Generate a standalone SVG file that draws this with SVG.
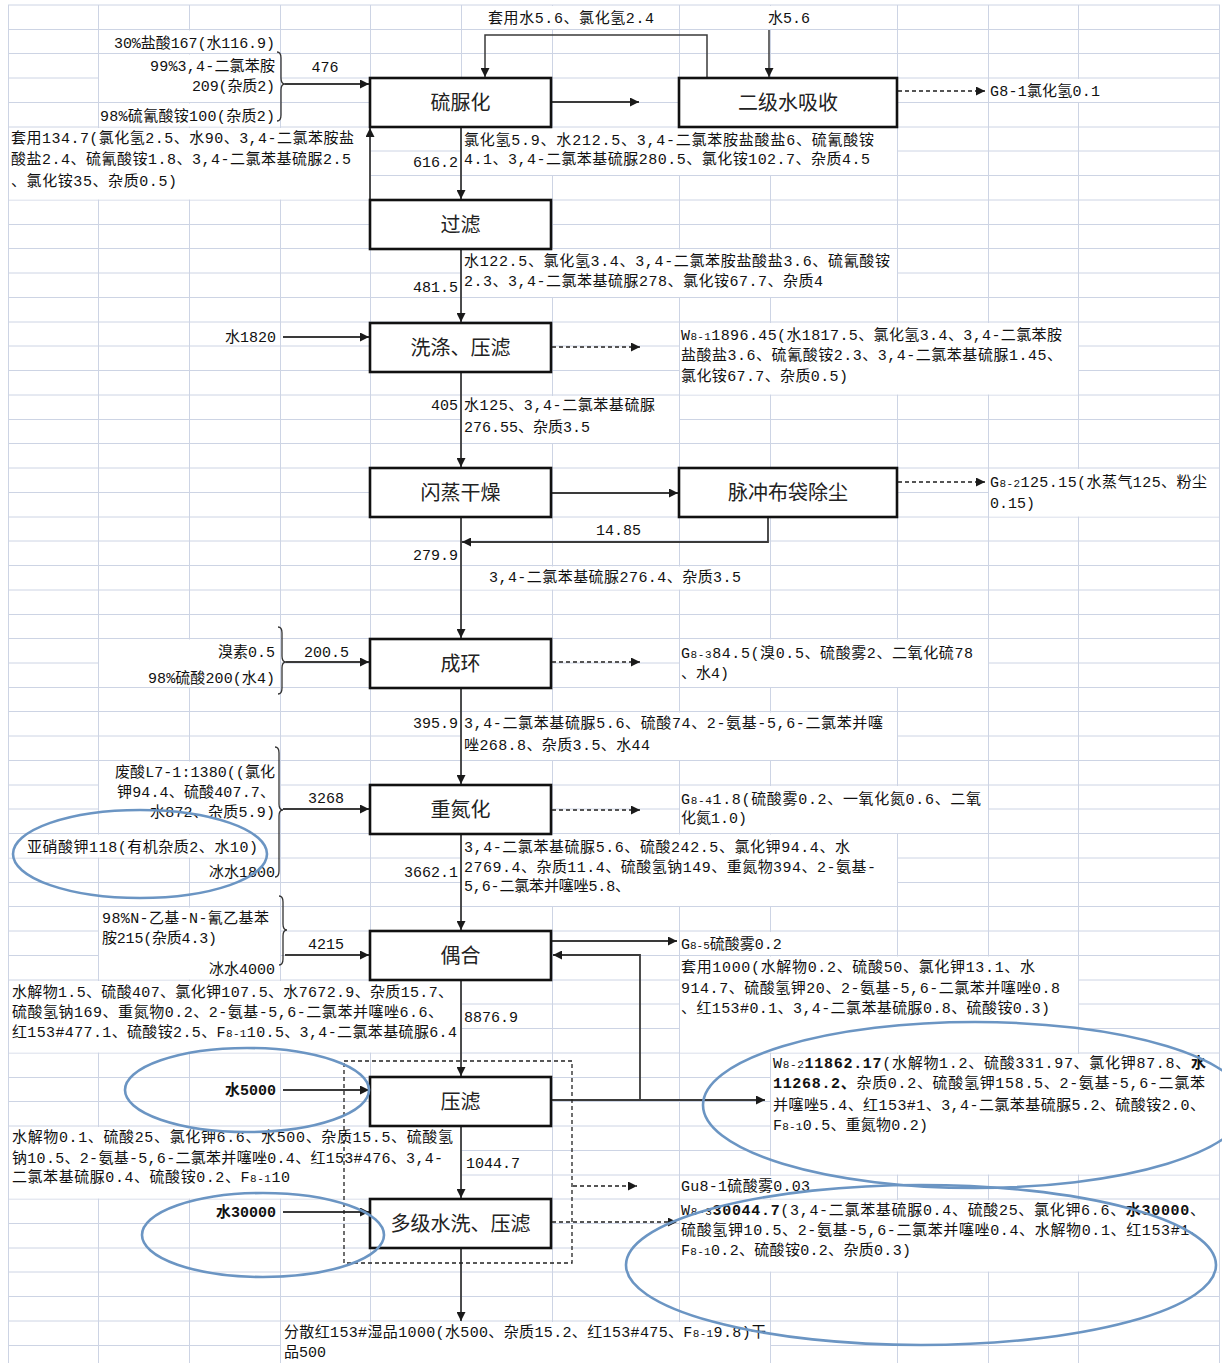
<svg xmlns="http://www.w3.org/2000/svg" width="1222" height="1363" viewBox="0 0 1222 1363">
<defs>
<marker id="ah" viewBox="0 0 10 10" refX="10" refY="5" markerWidth="9" markerHeight="9" markerUnits="userSpaceOnUse" orient="auto"><path d="M0,0 L10,5 L0,10 z" fill="#1a1a1a"/></marker>
<style>
.grid{fill:none;stroke:#cdd4e4;stroke-width:1}
.mg{fill:#fff;stroke:none}
.box{fill:#fff;stroke:#111;stroke-width:2.6}
.n{font-family:"Noto Sans CJK SC","Liberation Sans",sans-serif;font-size:20px;fill:#222;text-anchor:middle}
.t{font-family:"Liberation Mono","Noto Sans CJK SC",monospace;font-size:15px;fill:#111}
.e{text-anchor:end}
.m{text-anchor:middle}
.b{font-weight:bold}
.s{font-size:11px}
.ln{fill:none;stroke:#3a3a3a;stroke-width:1.8}
.ds{fill:none;stroke:#555;stroke-width:2;stroke-dasharray:4 3}
.dr{fill:none;stroke:#222;stroke-width:1.3;stroke-dasharray:4 3}
.br{fill:none;stroke:#333;stroke-width:1.3}
.el{fill:none;stroke:#6b95c3;stroke-width:2.6}
</style>
</defs>
<rect width="1222" height="1363" fill="#fff"/>
<g id="grid">
<path class="grid" d="M8,5 H1220 M8,29.5 H1220 M8,53.5 H1220 M8,78 H1220 M8,102.5 H1220 M8,127 H1220 M8,151 H1220 M8,175.5 H1220 M8,200 H1220 M8,224.5 H1220 M8,248.5 H1220 M8,273 H1220 M8,297.5 H1220 M8,322 H1220 M8,346 H1220 M8,370.5 H1220 M8,395 H1220 M8,419.5 H1220 M8,443.5 H1220 M8,468 H1220 M8,492.5 H1220 M8,517 H1220 M8,541 H1220 M8,565.5 H1220 M8,590 H1220 M8,614.5 H1220 M8,638.5 H1220 M8,663 H1220 M8,687.5 H1220 M8,711.5 H1220 M8,736 H1220 M8,760.5 H1220 M8,785 H1220 M8,809 H1220 M8,833.5 H1220 M8,858 H1220 M8,882.5 H1220 M8,906.5 H1220 M8,931 H1220 M8,955.5 H1220 M8,980 H1220 M8,1004 H1220 M8,1028.5 H1220 M8,1053 H1220 M8,1077.5 H1220 M8,1101.5 H1220 M8,1126 H1220 M8,1150.5 H1220 M8,1175 H1220 M8,1199 H1220 M8,1223.5 H1220 M8,1248 H1220 M8,1272 H1220 M8,1296.5 H1220 M8,1321 H1220 M8,1345.5 H1220"/>
<path class="grid" d="M8.5,5 V1363 M98.5,5 V1363 M189.5,5 V1363 M280.5,5 V1363 M370.5,5 V1363 M461.5,5 V1363 M552.5,5 V1363 M679.5,5 V1363 M770.5,5 V1363 M897.5,5 V1363 M988.5,5 V1363 M1078.5,5 V1363 M1219.5,5 V1363"/>
<rect class="mg" x="462" y="6" width="217" height="23"/>
<rect class="mg" x="680" y="6" width="217" height="23"/>
<rect class="mg" x="989" y="79" width="230" height="23"/>
<rect class="mg" x="99" y="30.5" width="181" height="22.5"/>
<rect class="mg" x="99" y="54.5" width="181" height="47.5"/>
<rect class="mg" x="99" y="103.5" width="181" height="23"/>
<rect class="mg" x="9" y="128" width="361" height="71.5"/>
<rect class="mg" x="462" y="128" width="435" height="47"/>
<rect class="mg" x="462" y="249.5" width="435" height="47.5"/>
<rect class="mg" x="680" y="323" width="398" height="71.5"/>
<rect class="mg" x="462" y="396" width="217" height="47"/>
<rect class="mg" x="989" y="469" width="230" height="47.5"/>
<rect class="mg" x="462" y="566.5" width="308" height="23"/>
<rect class="mg" x="99" y="639.5" width="181" height="47.5"/>
<rect class="mg" x="680" y="639.5" width="308" height="47.5"/>
<rect class="mg" x="462" y="712.5" width="435" height="47.5"/>
<rect class="mg" x="99" y="761.5" width="181" height="71.5"/>
<rect class="mg" x="680" y="786" width="308" height="47"/>
<rect class="mg" x="9" y="834.5" width="271" height="23"/>
<rect class="mg" x="190" y="859" width="90" height="23"/>
<rect class="mg" x="462" y="834.5" width="435" height="71.5"/>
<rect class="mg" x="99" y="907.5" width="181" height="72"/>
<rect class="mg" x="680" y="932" width="217" height="23"/>
<rect class="mg" x="680" y="956.5" width="398" height="96"/>
<rect class="mg" x="9" y="981" width="452" height="71.5"/>
<rect class="mg" x="771" y="1054" width="448" height="120.5"/>
<rect class="mg" x="9" y="1127" width="452" height="71.5"/>
<rect class="mg" x="680" y="1176" width="217" height="22.5"/>
<rect class="mg" x="680" y="1200" width="539" height="71.5"/>
<rect class="mg" x="281" y="1322" width="489" height="41"/>
</g>
<g id="connectors">
<path class="br" d="M277,52 Q281,52 281,58 L281,78 Q281,84 285,84 Q281,84 281,90 L281,115 Q281,121 277,121"/>
<path class="br" d="M278,627 Q282,627 282,633 L282,656 Q282,662 286,662 Q282,662 282,668 L282,688 Q282,694 278,694"/>
<path class="br" d="M275,747 Q279,747 279,753 L279,804 Q279,810 283,810 Q279,810 279,816 L279,871 Q279,877 275,877"/>
<path class="br" d="M279,896 Q283,896 283,902 L283,924 Q283,930 287,930 Q283,930 283,936 L283,959 Q283,965 279,965"/>
<path class="ln" d="M285,84 H369" marker-end="url(#ah)"/>
<path class="ln" d="M286,662 H369" marker-end="url(#ah)"/>
<path class="ln" d="M283,809 H369" marker-end="url(#ah)"/>
<path class="ln" d="M285,955 H369" marker-end="url(#ah)"/>
<path class="ln" d="M283,337 H369" marker-end="url(#ah)"/>
<path class="ln" d="M283,1090 H369" marker-end="url(#ah)"/>
<path class="ln" d="M283,1212 H369" marker-end="url(#ah)"/>
<path class="ln" d="M707,78 V35 H485 V77" style="stroke-width:1.5" marker-end="url(#ah)"/>
<path class="ln" d="M769,30 V77" style="stroke-width:1.5" marker-end="url(#ah)"/>
<path class="ln" d="M552,102 H639" marker-end="url(#ah)"/>
<path class="ln" d="M370,200 V128" marker-end="url(#ah)"/>
<path class="ln" d="M461,127 V199" marker-end="url(#ah)"/>
<path class="ln" d="M461,249 V322" marker-end="url(#ah)"/>
<path class="ln" d="M461,372 V467" marker-end="url(#ah)"/>
<path class="ln" d="M552,493 H678" marker-end="url(#ah)"/>
<path class="ln" d="M768,518 V542 H462" marker-end="url(#ah)"/>
<path class="ln" d="M461,517 V638" marker-end="url(#ah)"/>
<path class="ln" d="M461,688 V784" marker-end="url(#ah)"/>
<path class="ln" d="M461,834 V930" marker-end="url(#ah)"/>
<path class="ln" d="M552,941 H677" marker-end="url(#ah)"/>
<path class="ln" d="M461,980 V1076" marker-end="url(#ah)"/>
<path class="ln" d="M552,1100 H765" marker-end="url(#ah)"/>
<path class="ln" d="M640,1100 V955 H553" marker-end="url(#ah)"/>
<path class="ln" d="M461,1126 V1198" marker-end="url(#ah)"/>
<path class="ln" d="M461,1248 V1321" marker-end="url(#ah)"/>
<path class="ds" d="M898,91 H985" marker-end="url(#ah)"/>
<path class="ds" d="M552,347 H640" marker-end="url(#ah)"/>
<path class="ds" d="M898,482 H985" marker-end="url(#ah)"/>
<path class="ds" d="M552,662 H640" marker-end="url(#ah)"/>
<path class="ds" d="M552,810 H640" marker-end="url(#ah)"/>
<path class="ds" d="M573,1186 H637" marker-end="url(#ah)"/>
<path class="ds" d="M552,1222 H677" marker-end="url(#ah)"/>
<rect class="dr" x="344" y="1061" width="228" height="202"/>
</g>
<g id="n1"><rect class="box" x="370" y="78" width="181" height="49"/><text class="n" x="460.5" y="110">硫脲化</text></g>
<g id="n2"><rect class="box" x="679" y="78" width="218" height="49"/><text class="n" x="788" y="110">二级水吸收</text></g>
<g id="n3"><rect class="box" x="370" y="200" width="181" height="49"/><text class="n" x="460.5" y="232">过滤</text></g>
<g id="n4"><rect class="box" x="370" y="323" width="181" height="49"/><text class="n" x="460.5" y="355">洗涤、压滤</text></g>
<g id="n5"><rect class="box" x="370" y="468" width="181" height="49"/><text class="n" x="460.5" y="500">闪蒸干燥</text></g>
<g id="n6"><rect class="box" x="679" y="468" width="218" height="49"/><text class="n" x="788" y="500">脉冲布袋除尘</text></g>
<g id="n7"><rect class="box" x="370" y="639" width="181" height="49"/><text class="n" x="460.5" y="671">成环</text></g>
<g id="n8"><rect class="box" x="370" y="785" width="181" height="49"/><text class="n" x="460.5" y="817">重氮化</text></g>
<g id="n9"><rect class="box" x="370" y="931" width="181" height="49"/><text class="n" x="460.5" y="963">偶合</text></g>
<g id="n10"><rect class="box" x="370" y="1077" width="181" height="49"/><text class="n" x="460.5" y="1109">压滤</text></g>
<g id="n11"><rect class="box" x="370" y="1199" width="181" height="49"/><text class="n" x="460.5" y="1231">多级水洗、压滤</text></g>
<g id="labels">
<text class="t" x="488" y="23" textLength="166">套用水5.6、氯化氢2.4</text>
<text class="t" x="768" y="23">水5.6</text>
<text class="t" x="990" y="96" textLength="110">G8-1氯化氢0.1</text>
<text class="t e" x="275" y="48" textLength="161">30%盐酸167(水116.9)</text>
<text class="t e" x="275" y="71" textLength="125">99%3,4-二氯苯胺</text>
<text class="t e" x="275" y="91" textLength="83">209(杂质2)</text>
<text class="t e" x="275" y="121" textLength="175">98%硫氰酸铵100(杂质2)</text>
<text class="t m" x="325" y="72">476</text>
<text class="t" x="11" y="143" textLength="343">套用134.7(氯化氢2.5、水90、3,4-二氯苯胺盐</text>
<text class="t" x="11" y="164" textLength="340">酸盐2.4、硫氰酸铵1.8、3,4-二氯苯基硫脲2.5</text>
<text class="t" x="11" y="186" textLength="166">、氯化铵35、杂质0.5)</text>
<text class="t e" x="458" y="167">616.2</text>
<text class="t" x="464" y="145" textLength="410">氯化氢5.9、水212.5、3,4-二氯苯胺盐酸盐6、硫氰酸铵</text>
<text class="t" x="464" y="164" textLength="406">4.1、3,4-二氯苯基硫脲280.5、氯化铵102.7、杂质4.5</text>
<text class="t" x="464" y="266" textLength="426">水122.5、氯化氢3.4、3,4-二氯苯胺盐酸盐3.6、硫氰酸铵</text>
<text class="t" x="464" y="286" textLength="359">2.3、3,4-二氯苯基硫脲278、氯化铵67.7、杂质4</text>
<text class="t e" x="458" y="292">481.5</text>
<text class="t e" x="276" y="342">水1820</text>
<text class="t" x="681" y="340" textLength="381">W<tspan class="s">8-1</tspan>1896.45(水1817.5、氯化氢3.4、3,4-二氯苯胺</text>
<text class="t" x="681" y="360" textLength="381">盐酸盐3.6、硫氰酸铵2.3、3,4-二氯苯基硫脲1.45、</text>
<text class="t" x="681" y="381" textLength="167">氯化铵67.7、杂质0.5)</text>
<text class="t e" x="458" y="410">405</text>
<text class="t" x="464" y="410" textLength="191">水125、3,4-二氯苯基硫脲</text>
<text class="t" x="464" y="432">276.55、杂质3.5</text>
<text class="t" x="990" y="487" textLength="217">G<tspan class="s">8-2</tspan>125.15(水蒸气125、粉尘</text>
<text class="t" x="990" y="508">0.15)</text>
<text class="t" x="596" y="535">14.85</text>
<text class="t e" x="458" y="560">279.9</text>
<text class="t" x="489" y="582" textLength="252">3,4-二氯苯基硫脲276.4、杂质3.5</text>
<text class="t e" x="275" y="657">溴素0.5</text>
<text class="t e" x="275" y="683" textLength="127">98%硫酸200(水4)</text>
<text class="t" x="304" y="657">200.5</text>
<text class="t" x="681" y="658" textLength="292">G<tspan class="s">8-3</tspan>84.5(溴0.5、硫酸雾2、二氧化硫78</text>
<text class="t" x="681" y="678">、水4)</text>
<text class="t e" x="458" y="728">395.9</text>
<text class="t" x="464" y="728" textLength="419">3,4-二氯苯基硫脲5.6、硫酸74、2-氨基-5,6-二氯苯并噻</text>
<text class="t" x="464" y="750" textLength="186">唑268.8、杂质3.5、水44</text>
<text class="t e" x="275" y="777" textLength="160">废酸L7-1:1380((氯化</text>
<text class="t e" x="275" y="797" textLength="158">钾94.4、硫酸407.7、</text>
<text class="t e" x="275" y="817" textLength="125">水872、杂质5.9)</text>
<text class="t" x="308" y="803">3268</text>
<text class="t" x="27" y="852" textLength="231">亚硝酸钾118(有机杂质2、水10)</text>
<text class="t e" x="275" y="877">冰水1800</text>
<text class="t e" x="458" y="877">3662.1</text>
<text class="t" x="464" y="852" textLength="386">3,4-二氯苯基硫脲5.6、硫酸242.5、氯化钾94.4、水</text>
<text class="t" x="464" y="872" textLength="412">2769.4、杂质11.4、硫酸氢钠149、重氮物394、2-氨基-</text>
<text class="t" x="464" y="891" textLength="166">5,6-二氯苯并噻唑5.8、</text>
<text class="t" x="681" y="804" textLength="300">G<tspan class="s">8-4</tspan>1.8(硫酸雾0.2、一氧化氮0.6、二氧</text>
<text class="t" x="681" y="823">化氮1.0)</text>
<text class="t" x="102" y="923" textLength="167">98%N-乙基-N-氰乙基苯</text>
<text class="t" x="102" y="943" textLength="115">胺215(杂质4.3)</text>
<text class="t e" x="275" y="974">冰水4000</text>
<text class="t" x="308" y="949">4215</text>
<text class="t" x="681" y="949">G<tspan class="s">8-5</tspan>硫酸雾0.2</text>
<text class="t" x="681" y="972" textLength="354">套用1000(水解物0.2、硫酸50、氯化钾13.1、水</text>
<text class="t" x="681" y="993" textLength="379">914.7、硫酸氢钾20、2-氨基-5,6-二氯苯并噻唑0.8</text>
<text class="t" x="681" y="1013" textLength="369">、红153#0.1、3,4-二氯苯基硫脲0.8、硫酸铵0.3)</text>
<text class="t" x="12" y="997" textLength="441">水解物1.5、硫酸407、氯化钾107.5、水7672.9、杂质15.7、</text>
<text class="t" x="12" y="1017" textLength="431">硫酸氢钠169、重氮物0.2、2-氨基-5,6-二氯苯并噻唑6.6、</text>
<text class="t" x="12" y="1037" textLength="445">红153#477.1、硫酸铵2.5、F<tspan class="s">8-1</tspan>10.5、3,4-二氯苯基硫脲6.4</text>
<text class="t" x="464" y="1022">8876.9</text>
<text class="t e b" x="276" y="1095">水5000</text>
<text class="t" x="773" y="1068" textLength="433">W<tspan class="s">8-2</tspan><tspan class="b">11862.17</tspan>(水解物1.2、硫酸331.97、氯化钾87.8、<tspan class="b">水</tspan></text>
<text class="t" x="773" y="1088" textLength="432"><tspan class="b">11268.2、</tspan>杂质0.2、硫酸氢钾158.5、2-氨基-5,6-二氯苯</text>
<text class="t" x="773" y="1110" textLength="432">并噻唑5.4、红153#1、3,4-二氯苯基硫脲5.2、硫酸铵2.0、</text>
<text class="t" x="773" y="1130" textLength="155">F<tspan class="s">8-1</tspan>0.5、重氮物0.2)</text>
<text class="t" x="12" y="1142" textLength="441">水解物0.1、硫酸25、氯化钾6.6、水500、杂质15.5、硫酸氢</text>
<text class="t" x="12" y="1163" textLength="431">钠10.5、2-氨基-5,6-二氯苯并噻唑0.4、红153#476、3,4-</text>
<text class="t" x="12" y="1182" textLength="278">二氯苯基硫脲0.4、硫酸铵0.2、F<tspan class="s">8-1</tspan>10</text>
<text class="t" x="466" y="1168">1044.7</text>
<text class="t" x="681" y="1191" textLength="129">Gu8-1硫酸雾0.03</text>
<text class="t e b" x="276" y="1217">水30000</text>
<text class="t" x="681" y="1215" textLength="524">W<tspan class="s">8-3</tspan><tspan class="b">30044.7</tspan>(3,4-二氯苯基硫脲0.4、硫酸25、氯化钾6.6、<tspan class="b">水30000</tspan>、</text>
<text class="t" x="681" y="1235" textLength="524">硫酸氢钾10.5、2-氨基-5,6-二氯苯并噻唑0.4、水解物0.1、红153#1、</text>
<text class="t" x="681" y="1255" textLength="230">F<tspan class="s">8-1</tspan>0.2、硫酸铵0.2、杂质0.3)</text>
<text class="t" x="284" y="1337" textLength="482">分散红153#湿品1000(水500、杂质15.2、红153#475、F<tspan class="s">8-1</tspan>9.8)干</text>
<text class="t" x="284" y="1357">品500</text>
</g>
<g id="marks">
<ellipse class="el" cx="140" cy="854" rx="127" ry="44"/>
<ellipse class="el" cx="247" cy="1090" rx="122" ry="42"/>
<ellipse class="el" cx="263" cy="1235" rx="121" ry="42"/>
<ellipse class="el" cx="975" cy="1105" rx="272" ry="83"/>
<ellipse class="el" cx="921" cy="1265" rx="295" ry="80"/>
</g>
</svg>
